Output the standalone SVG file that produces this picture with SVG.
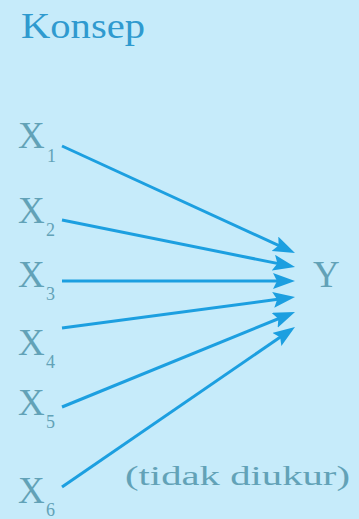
<svg xmlns="http://www.w3.org/2000/svg" width="359" height="519" viewBox="0 0 359 519">
<style>
.lbl{font-family:"Liberation Serif","DejaVu Serif",serif;fill:#62a2b7}
.x{font-size:37px}
.sub{font-size:18px}
.title{font-family:"Liberation Serif","DejaVu Serif",serif;font-size:36px;fill:#2f9acf}
.conn line{stroke:#1c9fe0;stroke-width:3;marker-end:url(#ah)}
</style>
<defs>
<marker id="ah" markerUnits="userSpaceOnUse" markerWidth="24" markerHeight="18" refX="14" refY="8" orient="auto">
<path d="M0,0 L22,8 L0,16 L4,8 Z" fill="#1c9fe0"/>
</marker>
</defs>
<rect width="359" height="519" fill="#c6ebfa"/>
<text class="title" x="21" y="38" textLength="124" lengthAdjust="spacingAndGlyphs">Konsep</text>
<g id="x1"><text class="lbl x" x="18" y="148">X</text><text class="lbl sub" x="47" y="162">1</text></g>
<g id="x2"><text class="lbl x" x="18" y="223">X</text><text class="lbl sub" x="46" y="236">2</text></g>
<g id="x3"><text class="lbl x" x="18" y="287">X</text><text class="lbl sub" x="46" y="300">3</text></g>
<g id="x4"><text class="lbl x" x="18" y="355">X</text><text class="lbl sub" x="46" y="368">4</text></g>
<g id="x5"><text class="lbl x" x="18" y="415">X</text><text class="lbl sub" x="46" y="428">5</text></g>
<g id="x6"><text class="lbl x" x="18" y="503">X</text><text class="lbl sub" x="46" y="516">6</text></g>
<g id="y"><text class="lbl x" x="313" y="287">Y</text></g>
<g id="note"><text class="lbl" font-size="27" x="125" y="485" textLength="225" lengthAdjust="spacingAndGlyphs">(tidak diukur)</text></g>
<g id="connectors" class="conn">
<line x1="62" y1="146" x2="287.7" y2="249.7"/>
<line x1="62" y1="220" x2="287.2" y2="265.4"/>
<line x1="62" y1="281" x2="287" y2="281"/>
<line x1="62" y1="328" x2="287.1" y2="298.1"/>
<line x1="62" y1="407" x2="287.6" y2="315"/>
<line x1="62" y1="487" x2="288.4" y2="331.5"/>
</g>
</svg>
